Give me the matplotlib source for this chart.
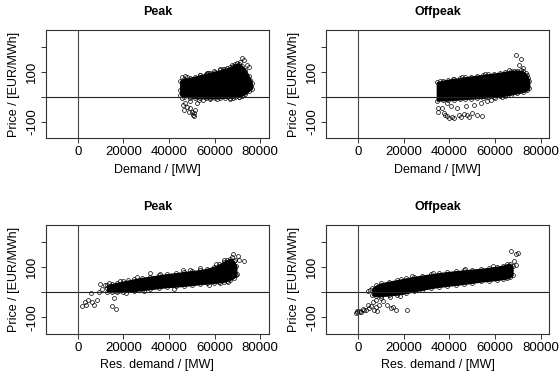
import matplotlib
matplotlib.use('Agg')
import matplotlib.pyplot as plt

plt.rcParams['font.family'] = ['Liberation Sans', 'DejaVu Sans']

titles = ['Peak', 'Offpeak', 'Peak', 'Offpeak']
xlabels = ['Demand / [MW]', 'Demand / [MW]', 'Res. demand / [MW]', 'Res. demand / [MW]']
ylabel = 'Price / [EUR/MWh]'
xticks = [0, 20000, 40000, 60000, 80000]
yticks = [-100, 0, 100, 200]
yticklabels = ['-100', '', '100', '']

# dense core of each cloud: x, lower and upper price edge
peak_dem_x = [44900, 46500, 49300, 51500, 53700, 56000, 58100, 60300, 62500, 64700,
              66900, 68000, 69000, 70500, 72000, 73400, 74900, 76300]
peak_dem_lo = [8, 2, -2, -4, -4, -5, -5, -4, -4, -3, -2, -2, 0, 2, 6, 12, 24, 33]
peak_dem_hi = [65, 72, 77, 82, 87, 92, 97, 102, 107, 113, 119, 126, 131, 133, 124, 110, 85, 58]
# loose points around the core
peak_dem_px = [45700, 47150, 47880, 49340, 50070, 50800, 51530, 48610, 52260, 52990,
               46420, 50500, 51100, 62480, 65400, 71970, 72700, 74160, 74890, 71240,
               59560, 56640, 53720, 45700, 47150, 58100, 66860, 70510, 49000, 46000,
               55000, 61000, 67500, 75500, 76000, 44600, 48000, 57000, 63500, 69800]
peak_dem_py = [-5, -25, -38, -45, -58, -65, -51, -58, -25, -12,
               -51, -72, -75, 112, 118, 155, 148, 128, 121, 141,
               104, 96, 88, 81, 85, -9, -6, 0, -15, -30,
               -10, -9, 130, 70, 45, 30, 82, 98, 114, 138]

off_dem_x = [34500, 37000, 39500, 42000, 44500, 47000, 49500, 52000, 54500, 57000,
             59500, 62000, 64500, 67000, 69500, 72000, 74000, 74900]
off_dem_lo = [-14, -13, -12, -11, -9, -7, -6, -4, -3, -1, 1, 3, 6, 10, 15, 20, 27, 38]
off_dem_hi = [59, 65, 69, 72, 75, 79, 82, 85, 88, 91, 94, 97, 101, 104, 106, 103, 88, 64]
off_dem_px = [35040, 37660, 39120, 39850, 42040, 44230, 46420, 47880, 50070, 52260,
              54450, 40580, 43500, 47150, 50800, 53720, 56640, 39120, 36930, 69050,
              71530, 70510, 71240, 72000, 68300, 41000, 45000, 48500, 38200, 34800,
              60000, 63000, 58000, 36000, 45500, 55500, 66000, 73500, 74500, 41500]
off_dem_py = [-60, -64, -77, -84, -84, -71, -68, -71, -64, -71,
              -77, -37, -44, -37, -31, -24, -17, -24, -44, 169,
              153, 129, 109, 115, 105, -80, -79, -81, -70, -45,
              -5, 0, -12, 64, 81, 93, 110, 95, 75, 74]

peak_res_x = [12800, 15000, 17200, 20000, 24500, 28000, 31800, 35500, 39100, 43000,
              46400, 50000, 53700, 56500, 59500, 62000, 64000, 65500, 66900, 68300, 69500]
peak_res_lo = [2, 1, 0, 2, 5, 9, 13, 17, 21, 23, 26, 29, 33, 35, 37, 40, 42, 46, 50, 57, 68]
peak_res_hi = [28, 33, 37, 43, 51, 57, 62, 67, 72, 76, 80, 84, 88, 93, 101, 111, 121, 128, 133, 125, 104]
peak_res_px = [1900, 3360, 4380, 5550, 6280, 7000, 8470, 9200, 9640, 11680,
               12850, 15040, 16500, 15770, 13580, 68030, 70070, 69050, 72700, 69780,
               31530, 53700, 10500, 3000, 26000, 22000, 46000, 60500, 64000, 67500,
               18500, 21000, 29000, 36000, 42000, 49000, 57500, 62500, 66000, 70500]
peak_res_py = [-56, -50, -30, -4, -37, -50, -30, 3, 31, 29,
               16, -56, -65, -24, 35, 153, 144, 127, 123, 71,
               78, 97, 12, -40, 62, 50, 88, 112, 128, 140,
               44, -2, 6, 72, 15, 90, 30, 36, 42, 130]

off_res_x = [6300, 8000, 9900, 13500, 17200, 21000, 24500, 28000, 31800, 35500,
             39100, 43000, 46400, 50000, 53700, 57500, 61000, 63500, 65400, 66500, 67600]
off_res_lo = [-12, -15, -15, -12, -9, -3, 4, 10, 17, 22, 26, 30, 34, 38, 43, 46, 50, 53, 56, 60, 68]
off_res_hi = [16, 27, 35, 42, 48, 55, 61, 66, 71, 76, 80, 84, 87, 90, 93, 97, 102, 106, 112, 113, 104]
off_res_px = [-1000, 440, 2630, 4820, 7000, 8470, 9200, 7740, 4380, 12850,
              14300, 16500, 21600, 9930, 4380, 67150, 69050, 70070, 68320, 69200,
              -300, 1500, 3500, 5600, 11000, 15500, 18500, 5200, 12000, 2000,
              -600, 800, 6500, 8000, 14000, 19000, 23500, 33000, 47000, 59000]
off_res_py = [-82, -75, -69, -62, -69, -75, -49, -30, -49, -49,
              -62, -69, -69, -23, 5, 164, 152, 158, 126, 108,
              -80, -78, -72, -55, -35, -60, -15, 10, 22, -65,
              -76, -80, -40, -60, -20, 52, 63, 78, 92, 104]

clouds = [
    (peak_dem_x, peak_dem_lo, peak_dem_hi, peak_dem_px, peak_dem_py),
    (off_dem_x, off_dem_lo, off_dem_hi, off_dem_px, off_dem_py),
    (peak_res_x, peak_res_lo, peak_res_hi, peak_res_px, peak_res_py),
    (off_res_x, off_res_lo, off_res_hi, off_res_px, off_res_py),
]

# axes boxes in figure fractions (left, bottom, width, height)
boxes = [(0.0821, 0.6292, 0.3977, 0.2904),
         (0.5821, 0.6292, 0.3988, 0.2904),
         (0.0821, 0.1054, 0.3977, 0.2914),
         (0.5821, 0.1054, 0.3988, 0.2914)]

fig = plt.figure(figsize=(5.6, 3.73), dpi=100)
for i in range(4):
    ax = fig.add_axes(boxes[i])
    cx, lo, hi, px, py = clouds[i]
    ax.fill_between(cx, lo, hi, color='black', lw=1.0, zorder=2)
    mk = dict(ls='none', marker='o', mfc='none', mec='black', ms=2.8, mew=0.5, zorder=3)
    ax.plot(cx, hi, **mk)
    ax.plot(cx, lo, **mk)
    ax.plot(px, py, **mk)
    ax.axhline(0, color='#222222', lw=0.8, zorder=4)
    ax.axvline(0, color='#444444', lw=0.8, zorder=4)
    ax.set_xlim(-14000, 83700)
    ax.set_ylim(-165, 268)
    ax.set_xticks(xticks)
    ax.set_xticklabels([str(t) for t in xticks])
    ax.set_yticks(yticks)
    ax.set_yticklabels(yticklabels, rotation=90, va='center')
    ax.tick_params(direction='out', length=3.6, width=0.7, color='#333333',
                   labelsize=9.5, pad=2.2)
    for s in ax.spines.values():
        s.set_color('#333333')
        s.set_linewidth(0.8)
    ax.set_xlabel(xlabels[i], fontsize=9, labelpad=4)
    ax.set_ylabel(ylabel, fontsize=9, labelpad=4)
    ax.text(0.5, 1.163, titles[i], transform=ax.transAxes, ha='center', va='center',
            fontsize=9, fontweight='bold')

fig.savefig('out.png', dpi=100)
plt.close(fig)
